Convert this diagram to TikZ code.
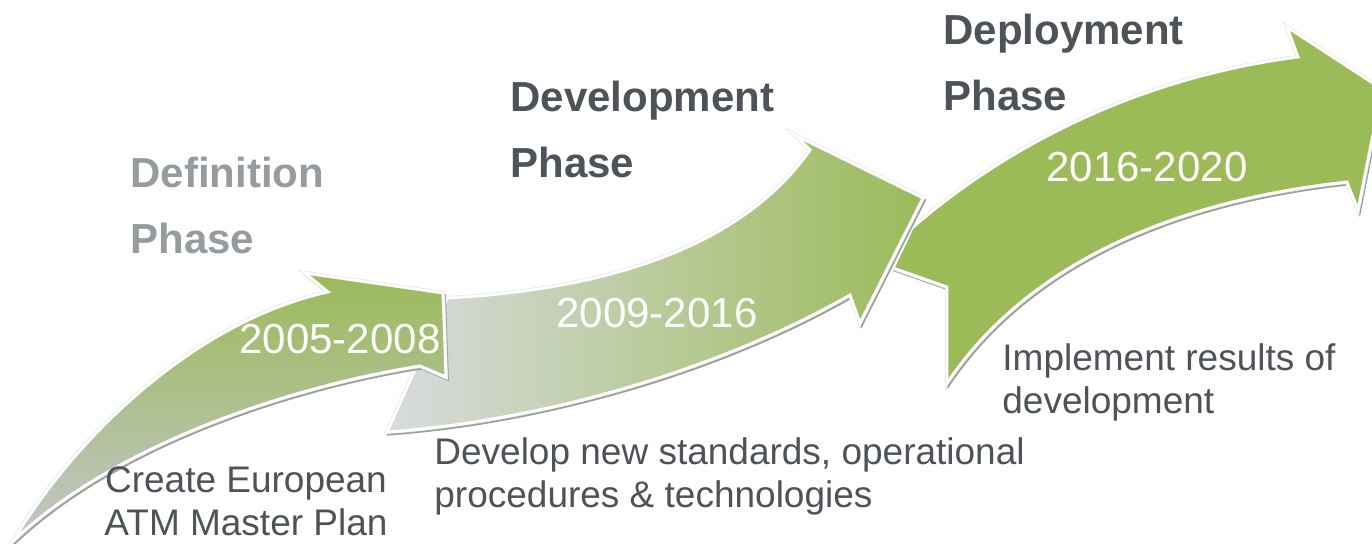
\documentclass[tikz,border=0pt]{standalone}
\usepackage{fontspec}
\setmainfont{Liberation Sans}
\usetikzlibrary{positioning}
\definecolor{phasegreen}{RGB}{155,187,89}
\definecolor{phasegray}{RGB}{216,219,222}
\definecolor{titlegray}{RGB}{77,83,89}
\definecolor{fadedgray}{RGB}{150,155,160}
\tikzset{
  phaseshadow/.style={fill=black!38,draw=black!38,line width=1.3pt,xshift=0.8pt,yshift=-1.1pt},
  phaserim/.style={draw=black!12,line width=2pt,line join=miter},
  phasearrow/.style={draw=white,line width=1.45pt,line join=miter},
  phasetitle/.style={font=\fontsize{21}{33}\selectfont\bfseries,text=titlegray,
    anchor=north west,inner sep=0pt,align=left},
  yearlabel/.style={font=\fontsize{21}{25}\selectfont,text=white,inner sep=0pt},
  tasklabel/.style={font=\fontsize{18.5}{21.5}\selectfont,text=titlegray,inner sep=0pt}
}
% outlines of the three phase arrows (pixel grid, y pointing down)
\def\arrowdefinition{(13,541) .. controls (80,430) and (200,320) .. (328,292) -- (305,273)
  -- (443,293) -- (446,377) -- (420,366) .. controls (300,385) and (120,440) .. (13,541) -- cycle}
\def\arrowdevelopment{(387,432) -- (447,298) .. controls (600,290) and (740,250) .. (810,150)
  -- (795,135) -- (923,198) -- (860,323) -- (850,295) .. controls (710,375) and (530,422) .. (387,432) -- cycle}
\def\arrowdeployment{(947,383) -- (947,287) -- (893,268) -- (912,228) .. controls (990,160) and (1120,80) .. (1298,57)
  -- (1287,27) -- (1382,89) -- (1358,210) -- (1347,182) .. controls (1180,200) and (1030,260) .. (947,383) -- cycle}

\begin{document}
\begin{tikzpicture}[x=0.5pt,y=-0.5pt]
  \useasboundingbox (0,0) rectangle (1372,543);

  % deployment arrow lies at the back
  \fill[phaseshadow] \arrowdeployment;
  \draw[phaserim] \arrowdeployment;
  \path[phasearrow,fill=phasegreen] \arrowdeployment;

  \fill[phaseshadow] \arrowdevelopment;
  \draw[phaserim] \arrowdevelopment;
  \path[phasearrow,left color=phasegray,middle color=phasegreen!45!phasegray,right color=phasegreen] \arrowdevelopment;

  \fill[phaseshadow] \arrowdefinition;
  \draw[phaserim] \arrowdefinition;
  \path[phasearrow,top color=phasegreen,middle color=phasegreen!55!phasegray,bottom color=phasegray!90!black] \arrowdefinition;

  \node[phasetitle,text=fadedgray] (deftitle) at (130,157) {Definition\\Phase};
  \node[phasetitle] (devtitle) at (510,81) {Development\\Phase};
  \node[phasetitle] (deptitle) at (943,14) {Deployment\\Phase};

  \node[yearlabel] (defyears) at (340,339) {2005-2008};
  \node[yearlabel] (devyears) at (657,313) {2009-2016};
  \node[yearlabel] (depyears) at (1147,167) {2016-2020};

  \node[tasklabel,anchor=north,align=center] (deftask) at (246,466) {Create European\\ATM Master Plan};
  \node[tasklabel,anchor=north west,align=left] (devtask) at (434,437) {Develop new standards, operational\\procedures \& technologies};
  \node[tasklabel,anchor=north west,align=left] (deptask) at (1002,343) {Implement results of\\development};
\end{tikzpicture}
\end{document}
